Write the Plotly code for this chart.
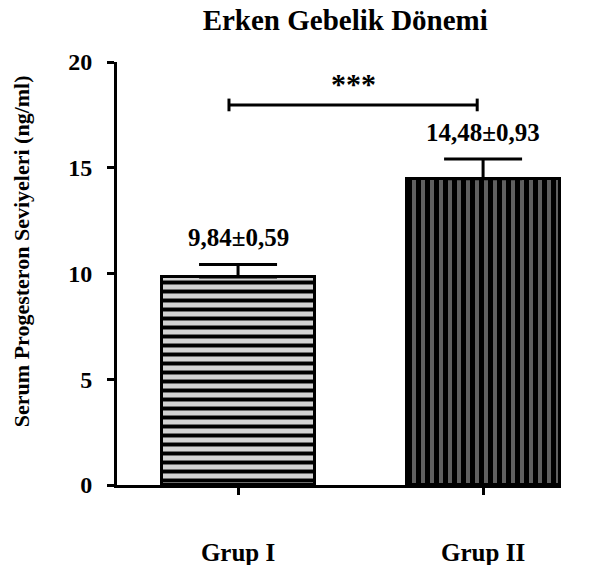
import plotly.graph_objects as go

categories = ["Grup I", "Grup II"]
means = [9.84, 14.48]
sems = [0.59, 0.93]
value_labels = ["9,84±0,59", "14,48±0,93"]
y_ticks = [0, 5, 10, 15, 20]
sig_text = "***"
sig_level = 17.97

bar_colors = ["#d3d3d3", "#606060"]
bar_patterns = ["-", "|"]
bar_solidity = [0.44, 0.55]

FONT = "Liberation Serif"
x_pos = [0, 1]

fig = go.Figure()
for i in range(len(categories)):
    fig.add_trace(go.Bar(
        x=[x_pos[i]], y=[means[i]], width=0.624,
        marker=dict(
            color=bar_colors[i],
            line=dict(color="black", width=3),
            pattern=dict(shape=bar_patterns[i], fgcolor="black", fgopacity=1,
                         bgcolor=bar_colors[i], size=9, solidity=bar_solidity[i],
                         fillmode="replace"),
        ),
        error_y=dict(type="data", symmetric=False, array=[sems[i]], arrayminus=[0],
                     color="black", thickness=3, width=39),
        showlegend=False,
    ))

for xi, m, s, lab in zip(x_pos, means, sems, value_labels):
    fig.add_annotation(x=xi, y=m + s, text=lab, showarrow=False, yanchor="middle",
                       yshift=27, font=dict(family=FONT, size=25, color="black", weight="bold"))

# significance bracket
bx0, bx1 = x_pos[0] - 0.037, x_pos[1] - 0.024
fig.add_shape(type="line", x0=bx0, x1=bx1, y0=sig_level, y1=sig_level,
              line=dict(color="black", width=3))
for bx in (bx0, bx1):
    fig.add_shape(type="line", x0=bx, x1=bx, y0=sig_level - 0.3, y1=sig_level + 0.3,
                  line=dict(color="black", width=3))
fig.add_annotation(x=(bx0 + bx1) / 2, y=sig_level, text=sig_text, showarrow=False,
                   yanchor="bottom", yshift=3,
                   font=dict(family=FONT, size=30, color="black", weight="bold"))

# y-axis title
fig.add_annotation(xref="paper", yref="paper", x=-0.216, y=0.553, text="Serum Progesteron Seviyeleri (ng/ml)",
                   textangle=-90, showarrow=False, xanchor="center", yanchor="middle",
                   font=dict(family=FONT, size=22, color="black", weight="bold"))

fig.update_layout(
    width=598, height=565,
    margin=dict(l=117, r=37, t=62, b=80, autoexpand=False),
    plot_bgcolor="white", paper_bgcolor="white",
    title=dict(text="Erken Gebelik Dönemi", x=0.514, xref="paper", xanchor="center",
               y=1 - 20 / 565, yref="container", yanchor="middle",
               font=dict(family=FONT, size=29, color="black", weight="bold")),
    barmode="overlay",
    bargap=0,
)
fig.update_xaxes(range=[-0.494, 1.318], tickvals=x_pos, ticktext=categories,
                 showline=True, linecolor="black", linewidth=3,
                 ticks="outside", ticklen=7, tickwidth=3, tickcolor="black",
                 ticklabelstandoff=36, showgrid=False, zeroline=False, automargin=False,
                 tickfont=dict(family=FONT, size=25, color="black", weight="bold"))
fig.update_yaxes(range=[0, 20], tickvals=y_ticks,
                 showline=True, linecolor="black", linewidth=3,
                 ticks="outside", ticklen=7, tickwidth=3, tickcolor="black",
                 ticklabelstandoff=10, showgrid=False, zeroline=False, automargin=False,
                 tickfont=dict(family=FONT, size=24, color="black", weight="bold"))

fig.write_html("out.html")
